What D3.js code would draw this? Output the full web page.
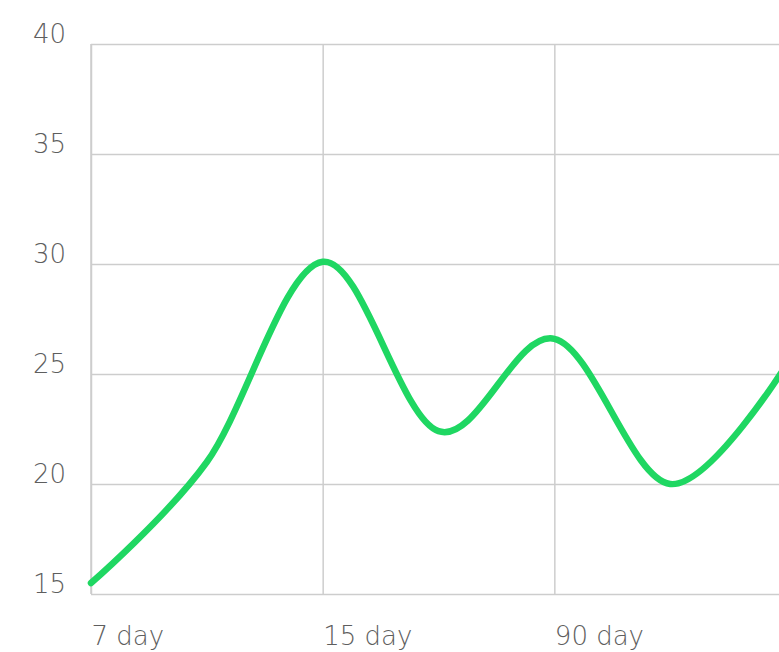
<!DOCTYPE html>
<html>
<head>
<meta charset="utf-8">
<script src="https://cdn.jsdelivr.net/npm/d3@7"></script>
<style>
  body { margin: 0; background: #fff; }
  svg { display: block; }
</style>
</head>
<body>
<script>
// data
var pointIndex = [0, 1, 2, 3, 4, 5, 6];
var values = [15.5, 21.0, 30.1, 22.4, 26.6, 20.0, 25.4];
var xTickIndex = [0, 2, 4];
var xTickLabels = ["7 day", "15 day", "90 day"];
var yTicks = [15, 20, 25, 30, 35, 40];

var width = 779, height = 652;
var plotLeft = 91, plotTop = 44, plotBottom = 594;

var svg = d3.select("body")
	.append("svg")
	.attr("width", width)
	.attr("height", height);

var x = d3.scaleLinear().domain([0, 6]).range([plotLeft, 786]);
var y = d3.scaleLinear().domain([15, 40]).range([plotBottom, plotTop]);

var gridColor = "#cdcdcd";
var textColor = "#5e5e5e";
var font = "'DejaVu Sans', sans-serif";

// horizontal grid + y labels
var yAxis = svg.append("g")
	.attr("transform", "translate(" + plotLeft + ",0)")
	.call(d3.axisLeft(y).tickValues(yTicks).tickSize(-(width - plotLeft + 20)).tickFormat(d3.format("d")));
yAxis.select(".domain").remove();
yAxis.selectAll(".tick line")
	.attr("stroke", gridColor)
	.attr("stroke-width", 1.5);
yAxis.selectAll(".tick text")
	.attr("x", 33 - plotLeft)
	.attr("dy", "-1.5")
	.attr("text-anchor", "start")
	.style("font-family", font)
	.style("font-size", "26px")
	.style("font-weight", 300)
	.style("fill", textColor);

// vertical grid + x labels
var xAxis = svg.append("g")
	.attr("transform", "translate(0," + plotBottom + ")")
	.call(d3.axisBottom(x).tickValues(xTickIndex).tickSize(-(plotBottom - plotTop))
		.tickFormat(function(d, i) { return xTickLabels[i]; }));
xAxis.select(".domain").remove();
xAxis.selectAll(".tick line")
	.attr("stroke", gridColor)
	.attr("stroke-width", 1.5);
xAxis.selectAll(".tick text")
	.attr("y", 51)
	.attr("dy", 0)
	.attr("text-anchor", "start")
	.style("font-family", font)
	.style("font-size", "26px")
	.style("font-weight", 300)
	.style("fill", textColor);

// left axis line
svg.append("line")
	.attr("x1", plotLeft).attr("x2", plotLeft)
	.attr("y1", plotTop).attr("y2", plotBottom)
	.attr("stroke", gridColor)
	.attr("stroke-width", 1.5);

var line = d3.line()
	.x(function(d) { return x(d); })
	.y(function(d) { return y(values[d]); })
	.curve(d3.curveCardinal);

svg.append("path")
	.datum(pointIndex)
	.attr("d", line)
	.attr("fill", "none")
	.attr("stroke", "#1fd762")
	.attr("stroke-width", 6.5)
	.attr("stroke-linecap", "round")
	.attr("stroke-linejoin", "round");
</script>
</body>
</html>
